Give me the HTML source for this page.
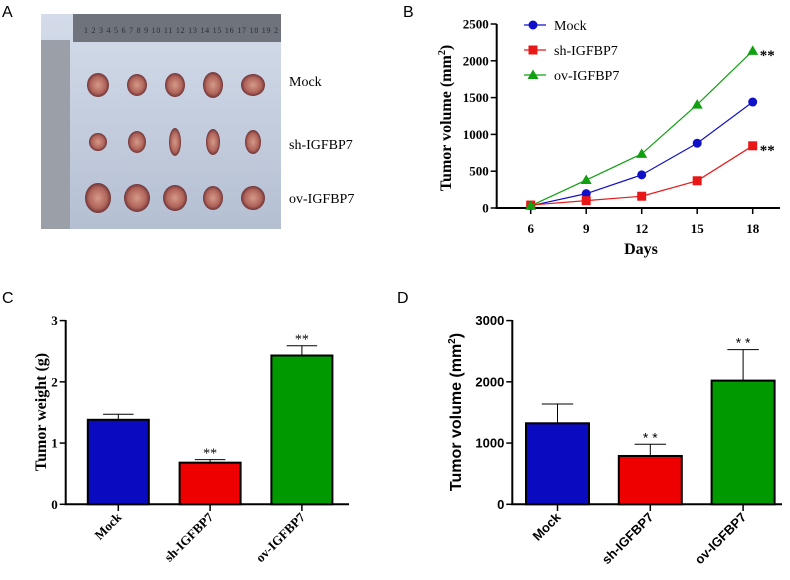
<!DOCTYPE html>
<html><head><meta charset="utf-8">
<style>
html,body{margin:0;padding:0;background:#fff;}
body{width:790px;height:580px;position:relative;overflow:hidden;}
svg{position:absolute;left:0;top:0;}
.t{font-family:"Liberation Serif",serif;}
.a{font-family:"Liberation Sans",sans-serif;}
</style></head>
<body>
<svg width="790" height="580" viewBox="0 0 790 580">
<defs>
<linearGradient id="bg" x1="0" y1="0" x2="0" y2="1"><stop offset="0" stop-color="#d4dcea"/><stop offset="1" stop-color="#b4bfd2"/></linearGradient>
<radialGradient id="tum"><stop offset="0" stop-color="#d49a88"/><stop offset="0.7" stop-color="#b0645a"/><stop offset="1" stop-color="#6e3438"/></radialGradient>
</defs>
<g>
<text x="2" y="17" class="a" font-size="16">A</text>
<rect x="41" y="14" width="240" height="215" fill="url(#bg)"/>
<rect x="73" y="14" width="208" height="28" fill="#6e737c"/>
<text x="84" y="33" class="t" font-size="8" fill="#2c2f36" textLength="194">1 2 3 4 5 6 7 8 9 10 11 12 13 14 15 16 17 18 19 2</text>
<rect x="41" y="40" width="29" height="189" fill="#9a9fa8"/>
<g id="tumors"></g>
<text x="289" y="86" class="t" font-size="14">Mock</text>
<text x="289" y="149" class="t" font-size="14">sh-IGFBP7</text>
<text x="289" y="203" class="t" font-size="14">ov-IGFBP7</text>
</g>
<g id="pb">
<text x="403" y="17" class="a" font-size="16">B</text>
</g>
<g id="pc">
<text x="2" y="303" class="a" font-size="16">C</text>
</g>
<g id="pd">
<text x="397" y="303" class="a" font-size="16">D</text>
</g>
</svg>
<script>
const NS='http://www.w3.org/2000/svg';
function mk(p,tag,at,txt){const e=document.createElementNS(NS,tag);for(const k in at)e.setAttribute(k,at[k]);if(txt!==undefined)e.textContent=txt;p.appendChild(e);return e;}

const tg=document.getElementById('tumors');
const tcx=[98,137,175,213,253], tcy=[85,142,198];
const trx=[[11,10,10,10,12],[9,9,6,7,8],[13,13,12,10,12]], try_=[[12,11,12,13,11],[9,11,14,13,12],[15,14,13,12,12]];
for(let r=0;r<3;r++)for(let c=0;c<5;c++){const e=mk(tg,'ellipse',{cx:tcx[c],cy:tcy[r],rx:trx[r][c],ry:try_[r][c],fill:'url(#tum)'});

}

const days=[6,9,12,15,18];
const mockVol=[30,195,450,880,1440];
const shVol=[40,100,160,370,845];
const ovVol=[30,380,735,1405,2135];
const bTicks=[0,500,1000,1500,2000,2500];
const pb=document.getElementById('pb');
const AX=496.7;
const bx=d=>530.7+(d-6)*(222/12), by=v=>208-v*(184/2500);
let e;
e=mk(pb,'line',{x1:AX,y1:24,x2:AX,y2:209,stroke:'#000','stroke-width':2});

e=mk(pb,'line',{x1:AX-1,y1:208,x2:780,y2:208,stroke:'#000','stroke-width':2});

bTicks.forEach(t=>{mk(pb,'line',{x1:AX-6,y1:by(t),x2:AX,y2:by(t),stroke:'#000','stroke-width':1.5});
e=mk(pb,'text',{x:AX-8,y:by(t)+4.5,'text-anchor':'end','font-size':13,'font-weight':'bold',class:'t'},t);
});
days.forEach(d=>{mk(pb,'line',{x1:bx(d),y1:208,x2:bx(d),y2:214,stroke:'#000','stroke-width':1.5});
e=mk(pb,'text',{x:bx(d),y:233,'text-anchor':'middle','font-size':13,'font-weight':'bold',class:'t'},d);
});
e=mk(pb,'text',{x:641,y:254,'text-anchor':'middle','font-size':16,'font-weight':'bold',class:'t'},'Days');

e=mk(pb,'text',{transform:'translate(451,118) rotate(-90)','text-anchor':'middle','font-size':16,'font-weight':'bold',class:'t'});

e.innerHTML='Tumor volume (mm<tspan dy="-6" font-size="10">2</tspan><tspan dy="6">)</tspan>';
function marker(p,type,x,y,col){let m;
 if(type==='c')m=mk(p,'circle',{cx:x,cy:y,r:4.5,fill:col});
 else if(type==='s')m=mk(p,'rect',{x:x-4.5,y:y-4.5,width:9,height:9,fill:col});
 else m=mk(p,'polygon',{points:`${x},${y-5.5} ${x+5.5},${y+4} ${x-5.5},${y+4}`,fill:col});
 return m;}
const series=[['mock',mockVol,'#1010c8','c'],['sh',shVol,'#e81818','s'],['ov',ovVol,'#10a010','t']];
series.forEach(([n,vals,col,mt])=>{
 e=mk(pb,'polyline',{points:vals.map((v,i)=>bx(days[i])+','+by(v)).join(' '),fill:'none',stroke:col,'stroke-width':1.2});
 
 vals.forEach((v,i)=>{const m=marker(pb,mt,bx(days[i]),by(v),col);
 
 });});
e=mk(pb,'text',{x:bx(18)+7,y:by(ovVol[4])+9,'font-size':15,'font-weight':'bold',class:'t'},'**');

e=mk(pb,'text',{x:bx(18)+7,y:by(shVol[4])+9,'font-size':15,'font-weight':'bold',class:'t'},'**');

const legNames=['Mock','sh-IGFBP7','ov-IGFBP7'];
series.forEach(([n,v,col,mt],i)=>{const y=25+i*25;
 const g=mk(pb,'g',{});
 
 
 mk(g,'line',{x1:524,y1:y,x2:546,y2:y,stroke:col,'stroke-width':1.2});
 marker(g,mt,533,y,col);
 mk(g,'text',{x:554,y:y+5,'font-size':14,class:'t'},legNames[i]);});

const groups=['Mock','sh-IGFBP7','ov-IGFBP7'];
const weightVals=[1.38,0.68,2.43];
const weightErr=[0.09,0.05,0.16];
const weightTicks=[0,1,2,3];
const volVals=[1323,789,2020];
const volErr=[316,191,506];
const volTicks=[0,1000,2000,3000];
const colors=['#0a0ac0','#ee0000','#009a00'];
function barPanel(p,cfg,vals,errs,ticks){
 const y=v=>504.3-v*(183.7/cfg.max);
 e=mk(p,'line',{x1:cfg.ax,y1:320,x2:cfg.ax,y2:505,stroke:'#000','stroke-width':2});
 
 e=mk(p,'line',{x1:cfg.ax-1,y1:504.3,x2:cfg.axEnd,y2:504.3,stroke:'#000','stroke-width':2});
 
 ticks.forEach(t=>{mk(p,'line',{x1:cfg.ax-6,y1:y(t),x2:cfg.ax,y2:y(t),stroke:'#000','stroke-width':1.5});
  e=mk(p,'text',{x:cfg.ax-8,y:y(t)+4.5,'text-anchor':'end','font-size':13,'font-weight':'bold',class:cfg.cls},t);
  });
 vals.forEach((v,i)=>{const cx=cfg.c0+i*cfg.step, w=cfg.w;
  e=mk(p,'line',{x1:cx,y1:y(v+errs[i]),x2:cx,y2:y(v),stroke:'#000','stroke-width':1});
  
  mk(p,'line',{x1:cx-w/4,y1:y(v+errs[i]),x2:cx+w/4,y2:y(v+errs[i]),stroke:'#000','stroke-width':1});
  e=mk(p,'rect',{x:cx-w/2,y:y(v),width:w,height:504.3-y(v),fill:colors[i],stroke:'#000','stroke-width':2});
  
  mk(p,'line',{x1:cx,y1:504.3,x2:cx,y2:511,stroke:'#000','stroke-width':1.5});
  e=mk(p,'text',{transform:`translate(${cx+4},${518}) rotate(-45)`,'text-anchor':'end','font-size':13,'font-weight':'bold',class:cfg.cls},groups[i]);
  
  if(i>0){e=mk(p,'text',{x:cx,y:y(v+errs[i])-2,'text-anchor':'middle','font-size':14,class:cfg.cls},cfg.star);
   }
 });
 e=mk(p,'text',{transform:`translate(${cfg.tx},412) rotate(-90)`,'text-anchor':'middle','font-size':cfg.tfs,'font-weight':'bold',class:cfg.cls});
 
 e.innerHTML=cfg.title;
}
barPanel(document.getElementById('pc'),{ax:65.7,axEnd:349,max:3,c0:118.3,step:91.8,w:61,cls:'t',tx:46,tfs:16,star:'**',title:'Tumor weight (g)'},weightVals,weightErr,weightTicks);
barPanel(document.getElementById('pd'),{ax:512.3,axEnd:782,max:3000,c0:557.5,step:92.8,w:63,cls:'a',tx:461,tfs:16,star:'* *',title:'Tumor volume (mm<tspan dy="-6" font-size="10">2</tspan><tspan dy="6">)</tspan>'},volVals,volErr,volTicks);
</script>
</body></html>
